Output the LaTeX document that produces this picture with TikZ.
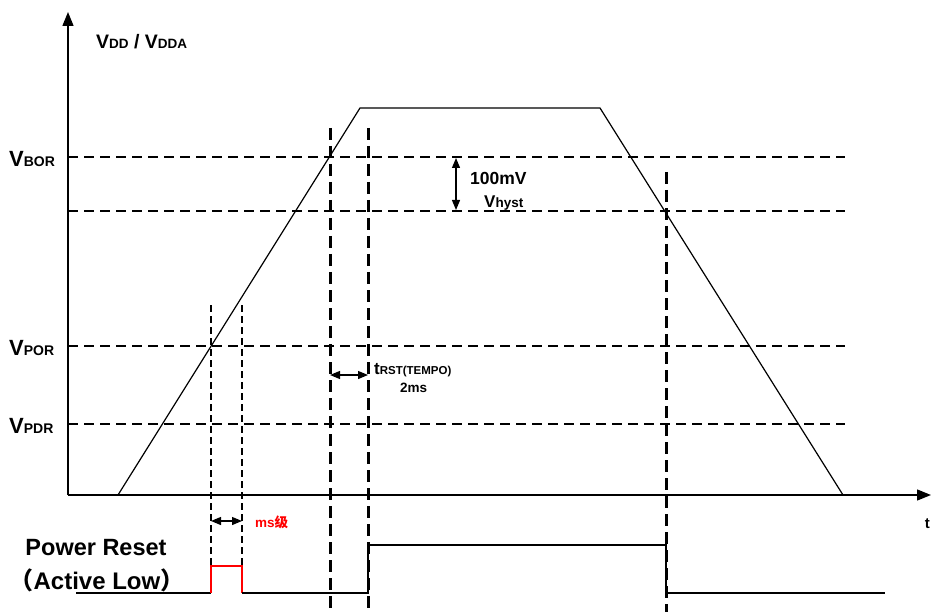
\documentclass[tikz,border=0pt]{standalone}
\usepackage{fontspec}
\setmainfont{Liberation Sans}
\newfontfamily\cjk{Noto Sans CJK SC}
\usetikzlibrary{arrows.meta}
\newcommand{\lowsub}[2]{{\fontsize{#1}{#1}\selectfont #2}}
\begin{document}
\begin{tikzpicture}
[x=1pt,y=-1pt]
\tikzset{lvl/.style={line width=2.6pt,dash pattern=on 10pt off 6pt}}
\tikzset{mark line/.style={line width=3pt,dash pattern=on 12pt off 6pt}}
\tikzset{thin mark/.style={line width=2pt,dash pattern=on 7pt off 4pt}}
\tikzset{dim/.style={{Triangle[length=10pt,width=8pt]}-{Triangle[length=10pt,width=8pt]},line width=1.2pt}}
\tikzset{lbl/.style={font=\bfseries,inner sep=0pt}}
\useasboundingbox (0,0) rectangle (931,612);
% axes
\coordinate (o) at (68,495);
\coordinate (ytop) at (68,12);
\coordinate (xend) at (931,495);
\draw[line width=1.4pt,-{Triangle[length=14pt,width=11pt]}] (o) -- (ytop);
\draw[line width=1.4pt,-{Triangle[length=14pt,width=11pt]}] (o) -- (xend);
\node[lbl,anchor=west,font=\bfseries\fontsize{19.5}{19.5}\selectfont] (vdd) at (96,42)
  {V\lowsub{13.5}{DD} / V\lowsub{13.5}{DDA}};
\node[lbl,anchor=east,font=\bfseries\fontsize{15}{15}\selectfont] (t) at (930,524) {t};
% voltage levels
\foreach \name/\y in {bor/157,hys/211,por/346,pdr/424}{
  \coordinate (\name a) at (68,\y);
  \coordinate (\name b) at (845,\y);
  \draw[lvl] (\name a) -- (\name b);
}
\foreach \name/\y/\txt in {bor/159/BOR,por/348/POR,pdr/426/PDR}
  \node[lbl,anchor=west,font=\bfseries\fontsize{22}{22}\selectfont] (l\name) at (9,\y)
    {V\lowsub{14}{\txt}};
% supply ramp
\coordinate (r0) at (118,495);
\coordinate (r1) at (360,108);
\coordinate (r2) at (600,108);
\coordinate (r3) at (843,495);
\draw[line width=1.2pt] (r0) -- (r1) -- (r2) -- (r3);
% time markers
\foreach \name/\x/\top in {m1/330/128,m2/368/128,m3/666/172}{
  \coordinate (\name t) at (\x,\top);
  \coordinate (\name b) at (\x,612);
  \draw[mark line] (\name t) -- (\name b);
}
\foreach \name/\x in {p1/211,p2/242}{
  \coordinate (\name t) at (\x,305);
  \coordinate (\name b) at (\x,566);
  \draw[thin mark] (\name t) -- (\name b);
}
% hysteresis
\coordinate (h1) at (456,158);
\coordinate (h2) at (456,210);
\draw[dim] (h1) -- (h2);
\node[lbl,anchor=west,font=\bfseries\fontsize{17.5}{17.5}\selectfont] (hv) at (470,178) {100mV};
\node[lbl,anchor=west,font=\bfseries\fontsize{17}{17}\selectfont] (hy) at (484,203) {V\lowsub{13.5}{hyst}};
% reset delay
\coordinate (d1) at (330,375);
\coordinate (d2) at (368,375);
\draw[dim] (d1) -- (d2);
\node[lbl,anchor=west,font=\bfseries\fontsize{17}{17}\selectfont] (tr) at (374,370) {t\lowsub{11.5}{RST(TEMPO)}};
\node[lbl,anchor=west,font=\bfseries\fontsize{13.5}{13.5}\selectfont] (tm) at (400,388) {2ms};
% pulse width
\coordinate (w1) at (211,521);
\coordinate (w2) at (242,521);
\draw[dim] (w1) -- (w2);
\node[lbl,anchor=west,text=red,font=\bfseries\fontsize{13.5}{13.5}\selectfont] (ms) at (255,522) {ms{\cjk 级}};
% reset signal
\node[lbl,font=\bfseries\fontsize{23.5}{23.5}\selectfont] (pr) at (96,548) {Power Reset};
\node[lbl,font=\bfseries\fontsize{24}{24}\selectfont] (al) at (97,580) {{\cjk （}Active Low{\cjk ）}};
\coordinate (s0) at (76,593);
\coordinate (s1) at (211,593);
\coordinate (s2) at (211,566);
\coordinate (s3) at (242,566);
\coordinate (s4) at (242,593);
\coordinate (s5) at (368,593);
\coordinate (s6) at (368,545);
\coordinate (s7) at (666,545);
\coordinate (s8) at (666,593);
\coordinate (s9) at (885,593);
\draw[line width=1.3pt] (s0) -- (s1);
\draw[line width=1.3pt,red] (s1) -- (s2) -- (s3) -- (s4);
\draw[line width=1.3pt] (s4) -- (s5) -- (s6) -- (s7) -- (s8) -- (s9);
\end{tikzpicture}
\end{document}
